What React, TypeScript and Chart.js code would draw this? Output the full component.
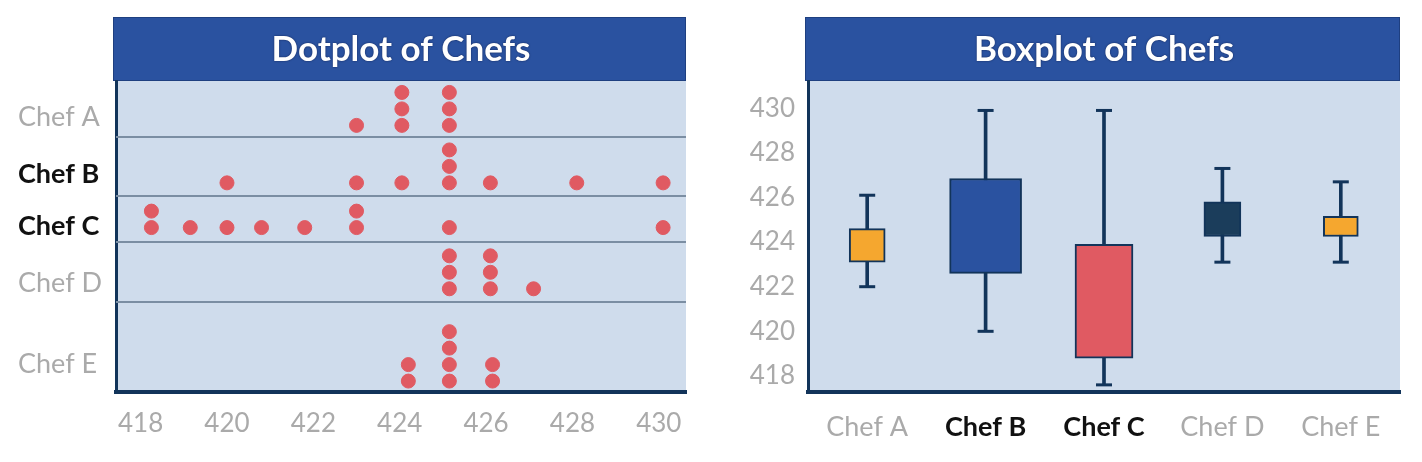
import React, { useEffect, useRef } from "react";
import { Chart, registerables } from "chart.js";

Chart.register(...registerables);

// ---------- data ----------
const chefs = ["Chef A", "Chef B", "Chef C", "Chef D", "Chef E"];
const emphasized = [false, true, true, false, false];

// dotplot values (one dot per observation)
const dotsA = [423, 424.05, 424.05, 424.05, 425.15, 425.15, 425.15];
const dotsB = [420, 423, 424.05, 425.15, 425.15, 425.15, 426.1, 428.1, 430.1];
const dotsC = [418.25, 418.25, 419.15, 420, 420.8, 421.8, 423, 423, 425.15, 430.1];
const dotsD = [425.15, 425.15, 425.15, 426.1, 426.1, 426.1, 427.1];
const dotsE = [424.2, 424.2, 425.15, 425.15, 425.15, 425.15, 426.15, 426.15];
const dotTicks = [418, 420, 422, 424, 426, 428, 430];

// boxplot summary values
const boxMin = [422, 420, 417.6, 423.1, 423.1];
const boxQ1 = [423.1, 422.6, 418.8, 424.25, 424.25];
const boxQ3 = [424.6, 426.85, 423.9, 425.8, 425.15];
const boxMax = [426.1, 429.9, 429.9, 427.3, 426.7];
const boxTicks = [418, 420, 422, 424, 426, 428, 430];

// ---------- layout / style ----------
const FONT = "Lato, 'Open Sans', sans-serif";
const BANNER = "#2a52a0";
const PLOT_BG = "#cfdcec";
const NAVY = "#12345a";
const GRAY = "#aaaaaa";
const DOT = "#e05a62";
const SEP = "#7b8ea3";
const boxColors = ["#f5a72f", "#2a52a0", "#e05a62", "#1b3d5b", "#f5a72f"];
const boxWidths = [36, 72, 58, 37, 35];

// dot rows (in stack units of the dotplot's vertical axis)
const rowBase = [15.86, 12.44, 9.78, 6.14, 0.65];
const rowLabelPos = [16.33, 12.96, 9.88, 6.45, 1.66];
const rowSeparators = [15.17, 11.66, 8.93, 5.38];
const stackStep = 0.98;

function bannerPlugin(title: string) {
  return {
    id: "banner",
    beforeDraw(chart: any) {
      const { ctx, chartArea } = chart;
      const { left, right, top, bottom } = chartArea;
      ctx.save();
      ctx.fillStyle = PLOT_BG;
      ctx.fillRect(left, top, right - left, bottom - top);
      ctx.fillStyle = BANNER;
      ctx.fillRect(left - 3, 17, right - left + 3, top - 17);
      ctx.strokeStyle = "#1e3f80";
      ctx.lineWidth = 1;
      ctx.strokeRect(left - 2.5, 17.5, right - left + 2, top - 18);
      ctx.fillStyle = "#ffffff";
      ctx.font = `bold 35px ${FONT}`;
      ctx.textAlign = "center";
      ctx.textBaseline = "middle";
      ctx.shadowColor = "rgba(0,0,30,0.6)";
      ctx.shadowBlur = 2;
      ctx.fillText(title, (left + right) / 2, (17 + top) / 2 + 1);
      ctx.restore();
    },
  };
}

const separatorPlugin = {
  id: "separators",
  beforeDatasetsDraw(chart: any) {
    const { ctx, chartArea, scales } = chart;
    ctx.save();
    ctx.strokeStyle = SEP;
    ctx.lineWidth = 2;
    rowSeparators.forEach((v) => {
      const y = Math.round(scales.y.getPixelForValue(v));
      ctx.beginPath();
      ctx.moveTo(chartArea.left, y);
      ctx.lineTo(chartArea.right, y);
      ctx.stroke();
    });
    ctx.restore();
  },
};

function stackDots(values: number[], base: number) {
  const counts: Record<string, number> = {};
  return values.map((v) => {
    const k = String(v);
    const n = counts[k] || 0;
    counts[k] = n + 1;
    return { x: v, y: base + n * stackStep };
  });
}

function tickFont(ctx: any) {
  return {
    family: FONT,
    size: 27,
    weight: emphasized[ctx.index] ? "bold" : "normal",
  } as any;
}
function tickColor(ctx: any) {
  return emphasized[ctx.index] ? "#111111" : GRAY;
}

function DotPlot() {
  const ref = useRef<HTMLCanvasElement>(null);
  useEffect(() => {
    const allDots = [dotsA, dotsB, dotsC, dotsD, dotsE];
    const points = allDots.flatMap((vals, i) => stackDots(vals, rowBase[i]));
    const chart = new Chart(ref.current!, {
      type: "scatter",
      data: {
        datasets: [
          {
            data: points,
            backgroundColor: DOT,
            borderColor: DOT,
            pointRadius: 7,
            pointHoverRadius: 7,
          },
        ],
      },
      options: {
        animation: false,
        responsive: false,
        maintainAspectRatio: false,
        devicePixelRatio: 1,
        layout: { padding: { top: 81, left: 18, right: 25, bottom: 0 } },
        plugins: { legend: { display: false }, tooltip: { enabled: false }, title: { display: false } },
        scales: {
          x: {
            type: "linear",
            min: 417.43,
            max: 430.63,
            afterBuildTicks: (s: any) => {
              s.ticks = dotTicks.map((v) => ({ value: v }));
            },
            afterFit: (s: any) => {
              s.height = 70;
            },
            grid: { display: false, drawTicks: false },
            border: { display: true, color: NAVY, width: 4 },
            ticks: {
              color: GRAY,
              font: { family: FONT, size: 26 },
              padding: 16,
              maxRotation: 0,
              callback: (v: any) => String(v),
            },
          },
          y: {
            type: "linear",
            min: 0,
            max: 18.5,
            afterBuildTicks: (s: any) => {
              s.ticks = rowLabelPos.map((v) => ({ value: v }));
            },
            afterFit: (s: any) => {
              s.width = 98;
            },
            grid: { display: false, drawTicks: false },
            border: { display: true, color: NAVY, width: 3 },
            ticks: {
              crossAlign: "far",
              color: tickColor as any,
              font: tickFont as any,
              callback: (_v: any, i: number) => chefs[i],
            },
          },
        },
      },
      plugins: [bannerPlugin("Dotplot of Chefs"), separatorPlugin],
    });
    return () => chart.destroy();
  }, []);
  return <canvas ref={ref} width={711} height={462} />;
}

function BoxPlot() {
  const ref = useRef<HTMLCanvasElement>(null);
  useEffect(() => {
    const whiskers = {
      type: "bar" as const,
      data: chefs.map((_, i) => [boxMin[i], boxMax[i]]),
      backgroundColor: NAVY,
      borderWidth: 0,
      barThickness: 3,
      grouped: false,
      order: 3,
    };
    const boxes = chefs.map((_, i) => ({
      type: "bar" as const,
      data: chefs.map((_, j) => (j === i ? [boxQ1[i], boxQ3[i]] : null)),
      backgroundColor: boxColors[i],
      borderColor: NAVY,
      borderWidth: 2,
      borderSkipped: false,
      barThickness: boxWidths[i],
      grouped: false,
      order: 2,
    }));
    const capStyle = {
      type: "line" as const,
      showLine: false,
      pointStyle: "line",
      pointRadius: 8,
      pointHoverRadius: 8,
      borderColor: NAVY,
      borderWidth: 3,
      order: 1,
    };
    const chart = new Chart(ref.current!, {
      type: "bar",
      data: {
        labels: chefs,
        datasets: [
          whiskers as any,
          ...(boxes as any[]),
          { ...capStyle, data: boxMax } as any,
          { ...capStyle, data: boxMin } as any,
        ],
      },
      options: {
        animation: false,
        responsive: false,
        maintainAspectRatio: false,
        devicePixelRatio: 1,
        layout: { padding: { top: 81, left: 0, right: 22, bottom: 0 } },
        plugins: { legend: { display: false }, tooltip: { enabled: false }, title: { display: false } },
        scales: {
          x: {
            type: "category",
            afterFit: (s: any) => {
              s.height = 70;
            },
            grid: { display: false, drawTicks: false },
            border: { display: true, color: NAVY, width: 4 },
            ticks: {
              color: tickColor as any,
              font: tickFont as any,
              padding: 19,
              maxRotation: 0,
              autoSkip: false,
            },
          },
          y: {
            type: "linear",
            min: 417.28,
            max: 431.22,
            afterBuildTicks: (s: any) => {
              s.ticks = boxTicks.map((v) => ({ value: v }));
            },
            afterFit: (s: any) => {
              s.width = 97;
            },
            grid: { display: false, drawTicks: false },
            border: { display: true, color: NAVY, width: 3 },
            ticks: {
              color: GRAY,
              font: { family: FONT, size: 26 },
              padding: 13,
              callback: (v: any) => String(v),
            },
          },
        },
      },
      plugins: [bannerPlugin("Boxplot of Chefs")],
    });
    return () => chart.destroy();
  }, []);
  return <canvas ref={ref} width={711} height={462} />;
}

export default function App() {
  return (
    <div
      style={{
        position: "fixed",
        left: 0,
        top: 0,
        width: 1422,
        height: 462,
        background: "#ffffff",
      }}
    >
      <div style={{ position: "absolute", left: 0, top: 0, width: 711, height: 462 }}>
        <DotPlot />
      </div>
      <div style={{ position: "absolute", left: 711, top: 0, width: 711, height: 462 }}>
        <BoxPlot />
      </div>
    </div>
  );
}
